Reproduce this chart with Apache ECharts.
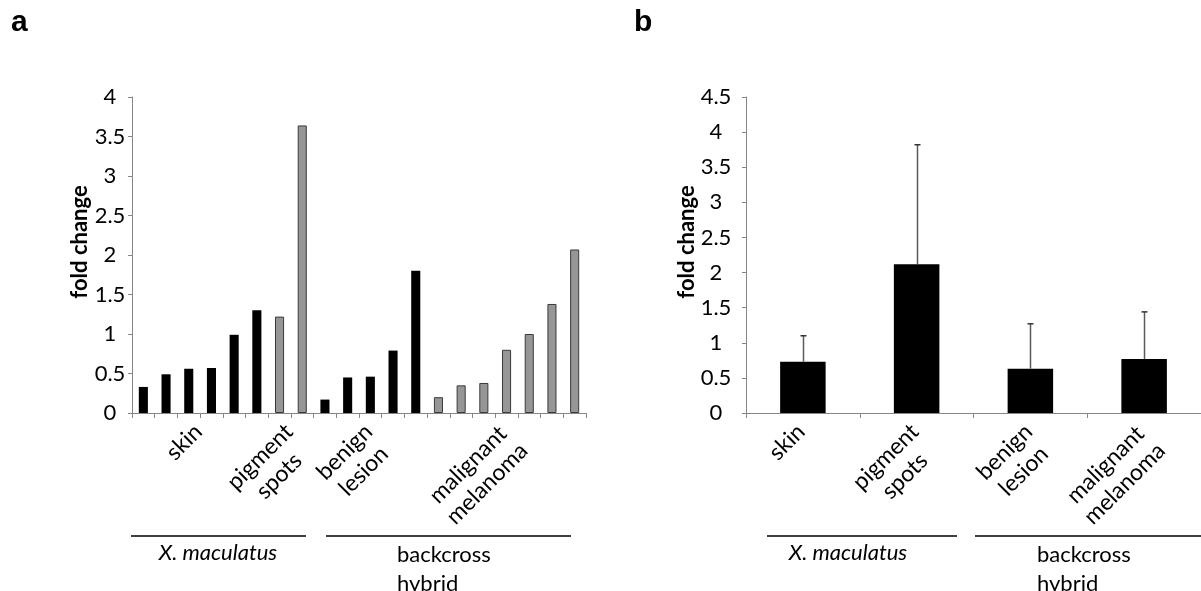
<!DOCTYPE html>
<html>
<head>
<meta charset="utf-8">
<script src="https://cdn.jsdelivr.net/npm/echarts@6/dist/echarts.min.js"></script>
<style>
  html, body { margin: 0; padding: 0; background: #fff; }
  #chart { width: 1201px; height: 591px; }
</style>
</head>
<body>
<div id="chart"></div>
<script>
// Panel a: individual samples, grouped by tissue
const tissueLabels = ['skin', 'pigment\nspots', 'benign\nlesion', 'malignant\nmelanoma'];
const samplesPerTissue = [6, 2, 5, 7];
const tissueFill = ['#000000', '#969696', '#000000', '#969696'];
const foldChangeA = [0.33, 0.49, 0.56, 0.57, 0.99, 1.30,
                     1.22, 3.64,
                     0.17, 0.45, 0.46, 0.79, 1.80,
                     0.20, 0.35, 0.38, 0.80, 1.00, 1.38, 2.07];

// Panel b: mean and standard deviation per tissue
const meanB = [0.73, 2.12, 0.63, 0.77];
const sdB = [0.37, 1.70, 0.64, 0.67];

// Species groups below the axes
const speciesLabels = ['X. maculatus', 'backcross\nhybrid'];

const yTicksA = { min: 0, max: 4, interval: 0.5 };
const yTicksB = { min: 0, max: 4.5, interval: 0.5 };

const FONT = 'Lato';
const AXIS_GREY = '#868686';

// per-sample tissue index and label anchor positions (in sample units)
const sampleTissue = [];
const tissueCentre = [];
let start = 0;
samplesPerTissue.forEach((n, t) => {
  for (let i = 0; i < n; i++) sampleTissue.push(t);
  tissueCentre.push(start + n / 2);
  start += n;
});
const sampleNames = foldChangeA.map((_, i) => 'S' + (i + 1));

function richLabel(text) {
  return text.split('\n').map(s => '{c|' + s + '}').join('\n');
}
const labelRich = { c: { align: 'center', fontFamily: FONT, fontSize: 23, color: '#000', lineHeight: 27 } };
// rotated tissue labels: top-right corner of the block sits at the category centre
const tissueLabelBase = { rotate: 45, align: 'right', verticalAlign: 'top', margin: -6, padding: [0, 16, 0, 0], rich: labelRich };

const yAxisCommon = (ticks, margin) => ({
  type: 'value', min: ticks.min, max: ticks.max, interval: ticks.interval,
  name: 'fold change', nameLocation: 'middle', nameRotate: 90, nameMoveOverlap: false,
  nameTextStyle: { fontFamily: FONT, fontWeight: 'bold', fontSize: 22, color: '#000', padding: [0, 0, 0, 26] },
  axisLine: { show: true, lineStyle: { color: AXIS_GREY, width: 1 } },
  axisTick: { show: true, length: 4, lineStyle: { color: AXIS_GREY } },
  splitLine: { show: false },
  axisLabel: { fontFamily: FONT, fontSize: 22, color: '#000', align: 'center', margin: margin,
               formatter: v => String(v) }
});

const chart = echarts.init(document.getElementById('chart'), null, { renderer: 'canvas' });

chart.setOption({
  animation: false,
  backgroundColor: '#fff',
  grid: [
    { left: 132, right: 615, top: 97, bottom: 178 },
    { left: 132, right: 615, top: 97, bottom: 178 },
    { left: 746, right: -9, top: 97, bottom: 178 }
  ],
  xAxis: [
    { // panel a samples
      type: 'category', gridIndex: 0, data: sampleNames,
      axisLine: { lineStyle: { color: AXIS_GREY, width: 1 } },
      axisTick: { show: true, interval: 0, length: 5, lineStyle: { color: AXIS_GREY } },
      axisLabel: { show: false }
    },
    { // panel a tissue labels, placed in sample units
      type: 'value', gridIndex: 1, min: 0, max: foldChangeA.length, interval: 0.5,
      axisLine: { show: false }, axisTick: { show: false }, splitLine: { show: false },
      axisLabel: Object.assign({}, tissueLabelBase, {
        formatter: v => {
          const t = tissueCentre.findIndex(c => Math.abs(c - v) < 1e-6);
          return t >= 0 ? richLabel(tissueLabels[t]) : '';
        }
      })
    },
    { // panel b tissues
      type: 'category', gridIndex: 2, data: tissueLabels,
      axisLine: { lineStyle: { color: AXIS_GREY, width: 1 } },
      axisTick: { show: true, interval: 0, length: 5, lineStyle: { color: AXIS_GREY } },
      axisLabel: Object.assign({}, tissueLabelBase, { interval: 0, formatter: v => richLabel(v) })
    }
  ],
  yAxis: [
    Object.assign(yAxisCommon(yTicksA, 22), { gridIndex: 0, nameGap: 41 }),
    { type: 'value', gridIndex: 1, min: yTicksA.min, max: yTicksA.max, show: false },
    Object.assign(yAxisCommon(yTicksB, 30), { gridIndex: 2, nameGap: 48 })
  ],
  series: [
    {
      type: 'bar', xAxisIndex: 0, yAxisIndex: 0, barWidth: '40%',
      data: foldChangeA.map((v, i) => {
        const t = sampleTissue[i];
        const grey = tissueFill[t] !== '#000000';
        return {
          value: v,
          itemStyle: {
            color: tissueFill[t],
            borderColor: grey ? '#3a3a3a' : '#000',
            borderWidth: grey ? 1 : 0
          }
        };
      })
    },
    {
      type: 'bar', xAxisIndex: 2, yAxisIndex: 2, barWidth: '40%',
      itemStyle: { color: '#000' },
      data: meanB
    },
    {
      type: 'custom', xAxisIndex: 2, yAxisIndex: 2, z: 3,
      data: meanB.map((m, i) => [i, m, m + sdB[i]]),
      encode: { x: 0, y: [1, 2] },
      renderItem: (params, api) => {
        const base = api.coord([api.value(0), api.value(1)]);
        const top = api.coord([api.value(0), api.value(2)]);
        const x = Math.round(base[0]) + 0.5;
        return {
          type: 'group',
          children: [
            { type: 'line', shape: { x1: x, y1: base[1], x2: x, y2: top[1] },
              style: { stroke: '#5a5a5a', lineWidth: 1.5 } },
            { type: 'line', shape: { x1: x - 3, y1: top[1], x2: x + 3, y2: top[1] },
              style: { stroke: '#333', lineWidth: 1.5 } }
          ]
        };
      }
    }
  ],
  graphic: [
    { type: 'text', left: 11, top: 8, style: { text: 'a', fontFamily: 'Liberation Sans', fontWeight: 'bold', fontSize: 30, fill: '#000' } },
    { type: 'text', left: 634, top: 8, style: { text: 'b', fontFamily: 'Liberation Sans', fontWeight: 'bold', fontSize: 30, fill: '#000' } },
    // species brackets, panel a
    { type: 'line', shape: { x1: 131, y1: 536, x2: 306, y2: 536 }, style: { stroke: '#000', lineWidth: 1.5 } },
    { type: 'line', shape: { x1: 326, y1: 536, x2: 571, y2: 536 }, style: { stroke: '#000', lineWidth: 1.5 } },
    { type: 'text', x: 218, y: 553, style: { text: speciesLabels[0], fontFamily: FONT, fontStyle: 'italic', fontSize: 22, fill: '#000', align: 'center', verticalAlign: 'middle' } },
    { type: 'text', x: 397, y: 540, style: { text: speciesLabels[1], fontFamily: FONT, fontSize: 22, lineHeight: 29, fill: '#000', align: 'left', verticalAlign: 'top' } },
    // species brackets, panel b
    { type: 'line', shape: { x1: 767, y1: 536, x2: 957, y2: 536 }, style: { stroke: '#000', lineWidth: 1.5 } },
    { type: 'line', shape: { x1: 975, y1: 536, x2: 1201, y2: 536 }, style: { stroke: '#000', lineWidth: 1.5 } },
    { type: 'text', x: 848, y: 553, style: { text: speciesLabels[0], fontFamily: FONT, fontStyle: 'italic', fontSize: 22, fill: '#000', align: 'center', verticalAlign: 'middle' } },
    { type: 'text', x: 1037, y: 540, style: { text: speciesLabels[1], fontFamily: FONT, fontSize: 22, lineHeight: 29, fill: '#000', align: 'left', verticalAlign: 'top' } }
  ]
});
</script>
</body>
</html>
